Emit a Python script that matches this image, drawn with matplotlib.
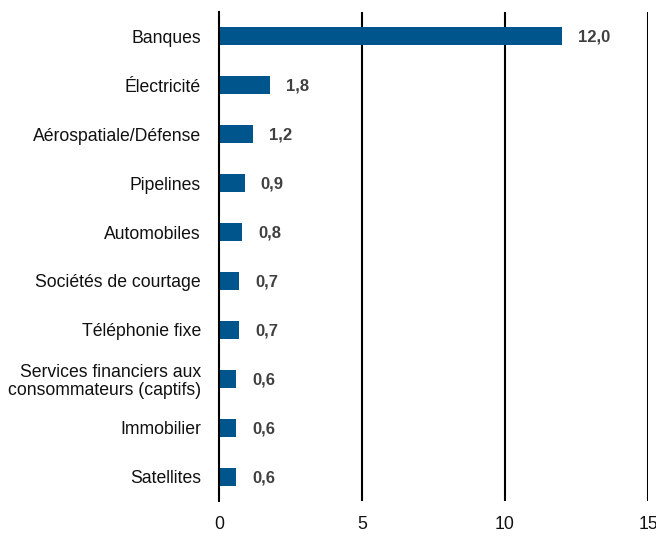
import matplotlib.pyplot as plt
from matplotlib import font_manager

categories = ["Banques", "Électricité", "Aérospatiale/Défense", "Pipelines",
              "Automobiles", "Sociétés de courtage", "Téléphonie fixe",
              "Services financiers aux\nconsommateurs (captifs)",
              "Immobilier", "Satellites"]
values = [12.0, 1.8, 1.2, 0.9, 0.8, 0.7, 0.7, 0.6, 0.6, 0.6]
xticks = [0, 5, 10, 15]

names = {f.name for f in font_manager.fontManager.ttflist}
fam = "Liberation Sans Narrow" if "Liberation Sans Narrow" in names else "Liberation Sans"
plt.rcParams['font.family'] = [fam, 'DejaVu Sans']

fig = plt.figure(figsize=(6.56, 5.36), dpi=100)
ax = fig.add_axes([219/656, 35/536, 429/656, 489/536])

y = list(range(len(categories)))
ax.barh(y, values, height=0.37, color='#00558c')
ax.set_ylim(len(categories) - 0.5, -0.5)
ax.set_xlim(0, 15)

for yi, v in zip(y, values):
    ax.annotate(f"{v:.1f}".replace('.', ','), (v, yi), xytext=(16, -1),
                textcoords='offset pixels',
                va='center', ha='left', fontsize=12, fontweight='bold', color='#404040')

for x in xticks[1:]:
    ax.axvline(x, color='black', lw=1.5, zorder=0)

ax.set_yticks(y)
ax.set_yticklabels(categories, fontsize=12.7, color='#111111', linespacing=1.1)
ax.set_xticks(xticks)
ax.set_xticklabels([str(t) for t in xticks], fontsize=12.7, color='#111111')
ax.tick_params(length=0, axis='y', pad=13)
ax.tick_params(length=0, axis='x', pad=11)
for s in ['top', 'right', 'bottom']:
    ax.spines[s].set_visible(False)
ax.spines['left'].set_linewidth(1.5)
ax.spines['left'].set_color('black')

fig.savefig("out.png", dpi=100)
